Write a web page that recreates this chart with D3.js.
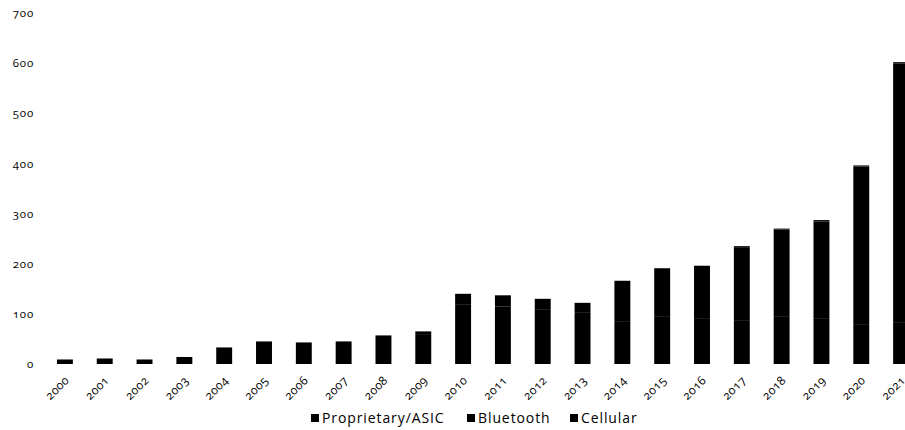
<!DOCTYPE html>
<html>
<head>
<meta charset="utf-8">
<script src="https://cdn.jsdelivr.net/npm/d3@7/dist/d3.min.js"></script>
<style>
  html, body { margin: 0; padding: 0; background: #fff; }
  svg { display: block; }
  text { font-family: "Open Sans", Lato, sans-serif; fill: #000; font-variant-numeric: oldstyle-nums; }
</style>
</head>
<body>
<svg id="chart" width="905" height="430"></svg>
<script>
// Annual volumes by connectivity type, stacked bottom to top
const years = ["2000","2001","2002","2003","2004","2005","2006","2007","2008","2009","2010",
               "2011","2012","2013","2014","2015","2016","2017","2018","2019","2020","2021"];
const proprietary = [9, 11, 9, 14, 33, 45, 43, 45, 57, 58, 118, 115, 108, 102, 84, 94, 90, 86, 94, 90, 78, 82];
const bluetooth   = [0, 0, 0, 0, 0, 0, 0, 0, 0, 7, 22, 22, 22, 20, 82, 97, 106, 147, 174, 194, 316, 517];
const cellular    = [0, 0, 0, 0, 0, 0, 0, 0, 0, 0, 0, 0, 0, 0, 0, 0, 0, 2, 2, 3, 2, 3];
const seriesNames = ["Proprietary/ASIC", "Bluetooth", "Cellular"];
const seriesColors = ["#000000", "#000000", "#000000"];
const yTicks = [0, 100, 200, 300, 400, 500, 600, 700];

const rows = years.map((y, i) => ({
  year: y,
  "Proprietary/ASIC": proprietary[i],
  "Bluetooth": bluetooth[i],
  "Cellular": cellular[i]
}));

const svg = d3.select("#chart");

const x = d3.scaleBand()
  .domain(years)
  .range([45, 921])
  .paddingInner(0.6)
  .paddingOuter(0.3);

const y = d3.scaleLinear()
  .domain([0, 700])
  .range([364, 13]);

const color = d3.scaleOrdinal().domain(seriesNames).range(seriesColors);

const stacked = d3.stack().keys(seriesNames)(rows);

// Stacked bars
svg.append("g")
  .selectAll("g")
  .data(stacked)
  .join("g")
    .attr("fill", d => color(d.key))
  .selectAll("rect")
  .data(d => d)
  .join("rect")
    .attr("x", d => x(d.data.year))
    .attr("width", x.bandwidth())
    .attr("y", d => y(d[1]))
    .attr("height", d => Math.max(0, y(d[0]) - y(d[1])));

// Y axis: labels only
const yAxis = svg.append("g")
  .attr("transform", "translate(34,0)")
  .call(d3.axisLeft(y).tickValues(yTicks).tickSize(0).tickPadding(0));
yAxis.select(".domain").remove();
yAxis.selectAll("text")
  .style("font-size", "11.5px")
  .style("letter-spacing", "0.8px")
  .attr("dy", "0.32em");

// X axis: rotated year labels
const xAxis = svg.append("g")
  .attr("transform", "translate(0,364)")
  .call(d3.axisBottom(x).tickSize(0).tickPadding(0));
xAxis.select(".domain").remove();
xAxis.selectAll("text")
  .style("font-size", "12px")
  .style("letter-spacing", "0.4px")
  .attr("text-anchor", "end")
  .attr("y", 0)
  .attr("dy", 0)
  .attr("transform", "translate(5,17) rotate(-45)");

// Legend
const legend = svg.append("g").attr("transform", "translate(0,423)");
const legendX = [311, 467, 570];
seriesNames.forEach((name, i) => {
  const g = legend.append("g").attr("transform", `translate(${legendX[i]},0)`);
  g.append("rect")
    .attr("x", 0).attr("y", -9)
    .attr("width", 8).attr("height", 8)
    .attr("fill", color(name));
  g.append("text")
    .attr("x", 11).attr("y", 0)
    .style("font-size", "14px")
    .style("letter-spacing", "0.9px")
    .text(name);
});
</script>
</body>
</html>
